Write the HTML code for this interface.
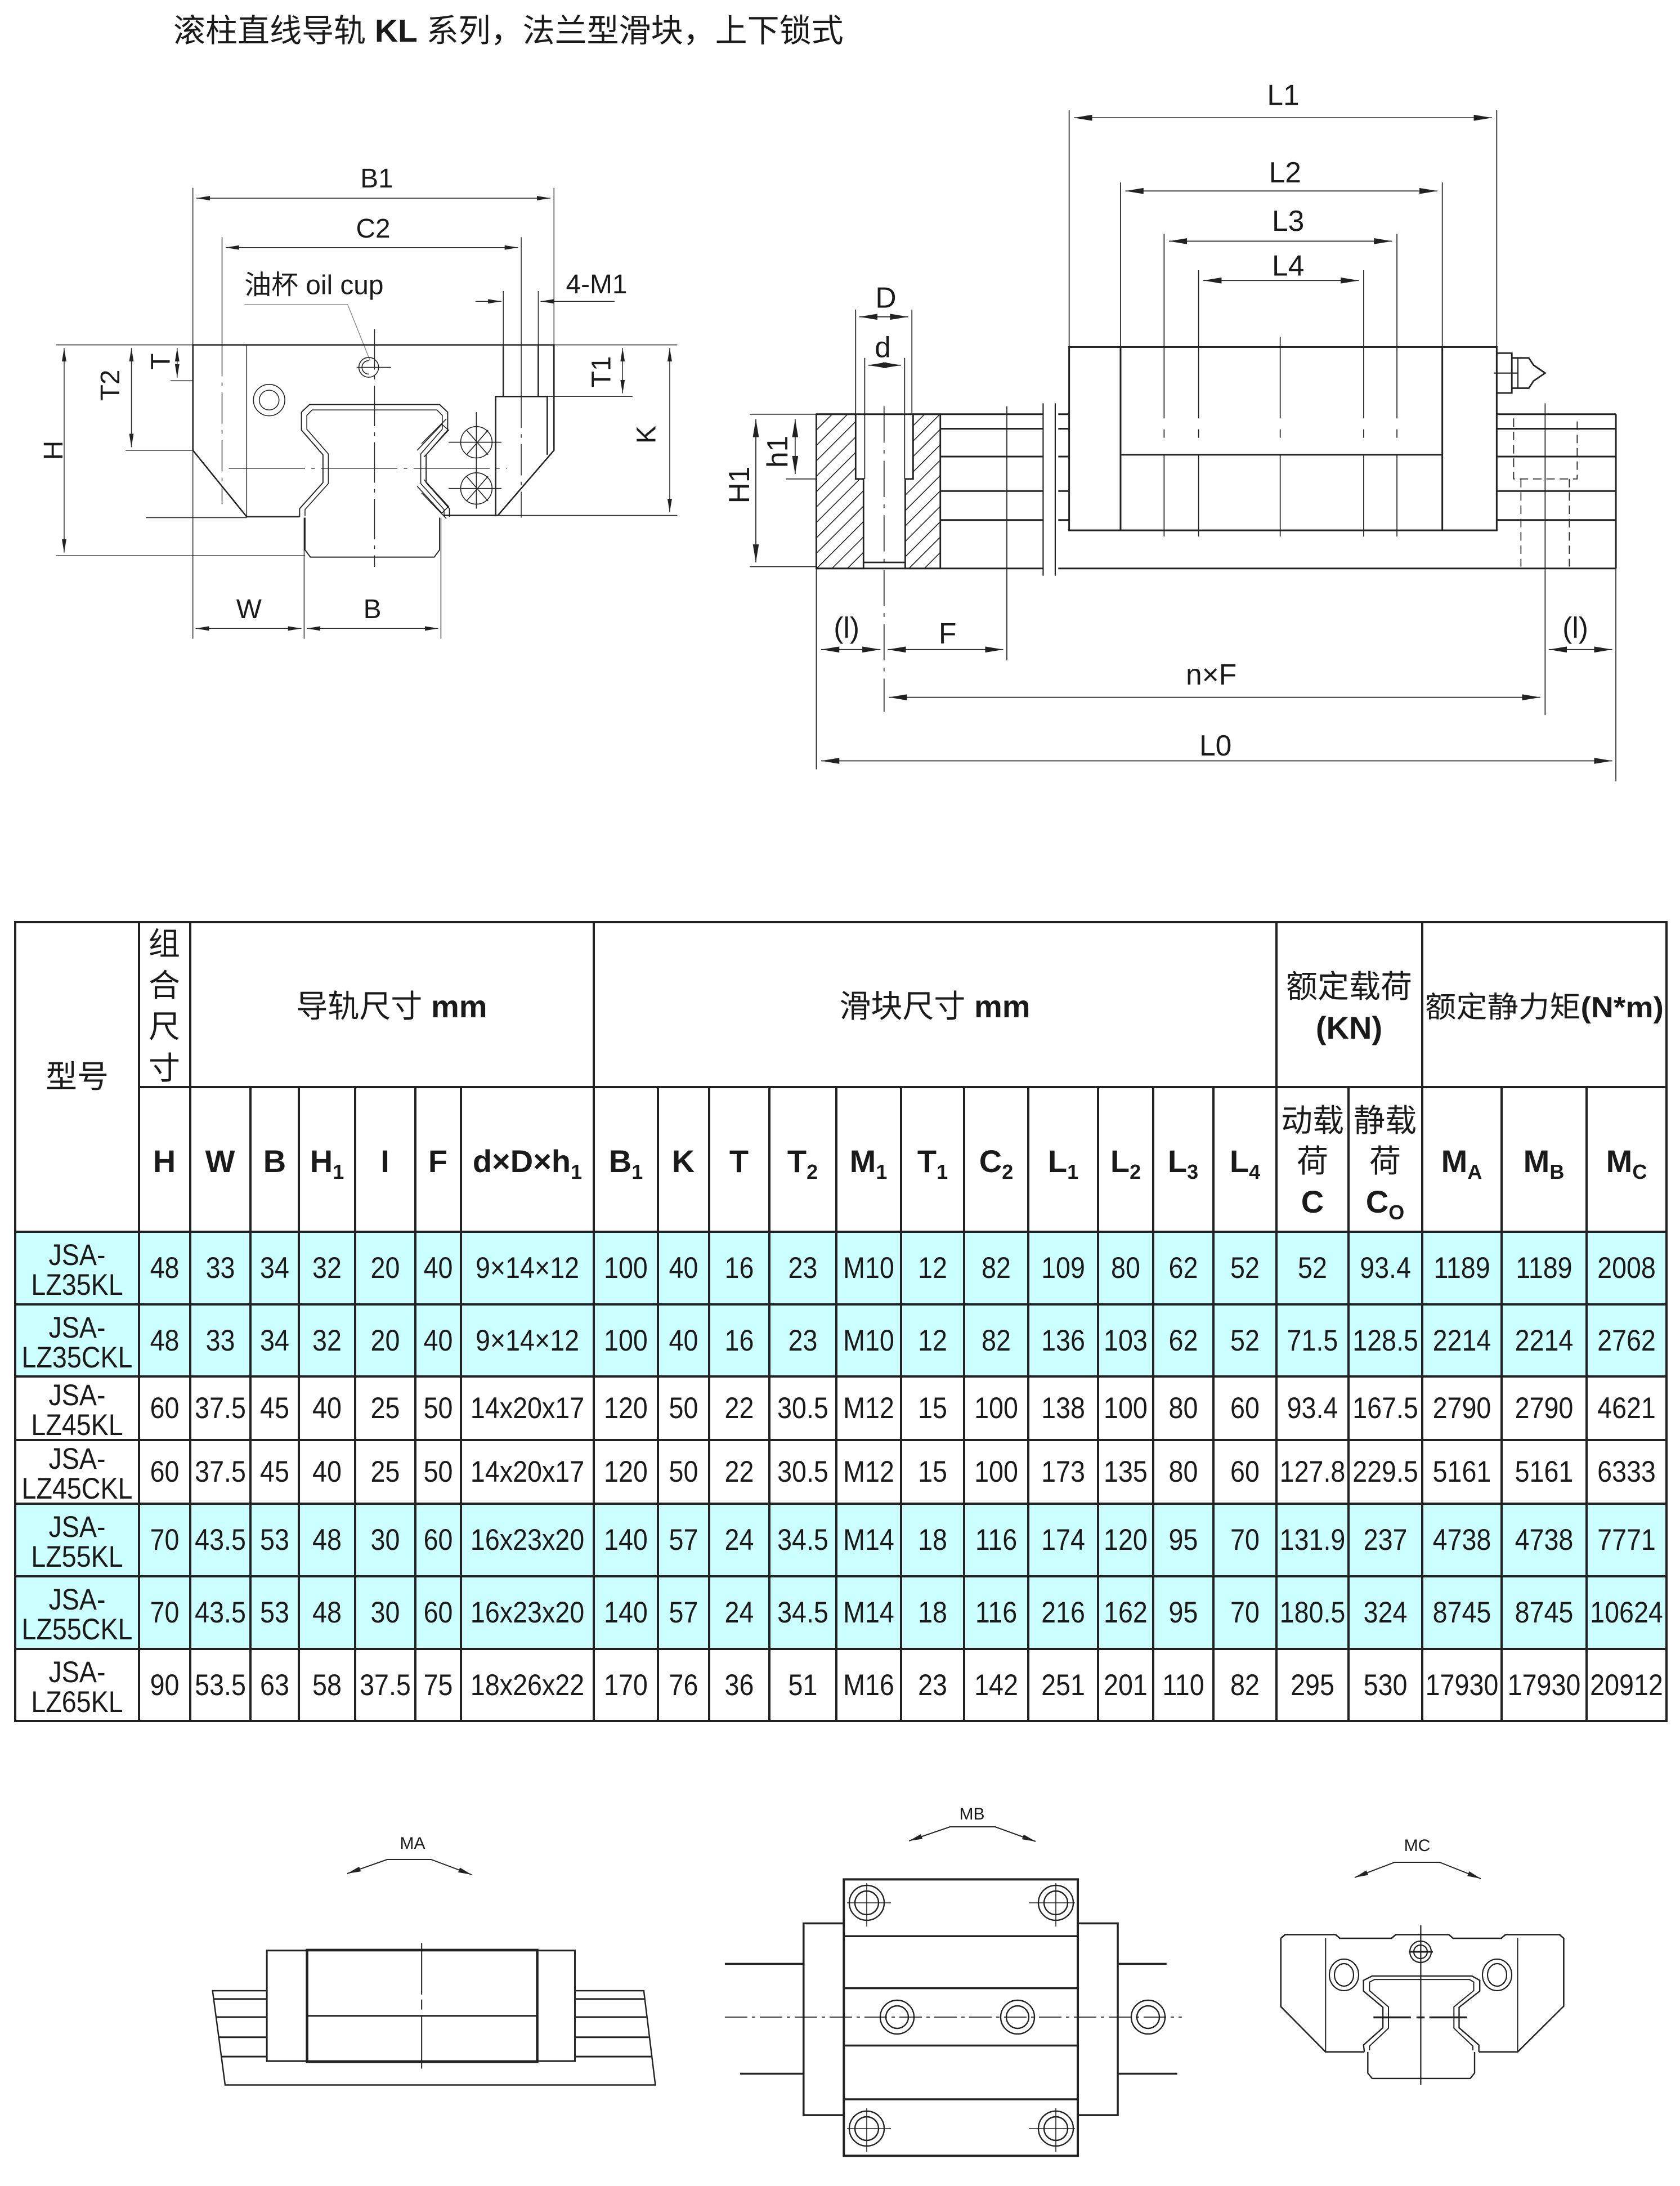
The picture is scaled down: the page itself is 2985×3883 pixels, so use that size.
<!DOCTYPE html>
<html><head><meta charset="utf-8"><style>
html,body{margin:0;padding:0;background:#fff;}
svg{display:block;}
text{font-family:"Liberation Sans","Noto Sans CJK SC",sans-serif;fill:#1a1a1a;stroke:none;}
</style></head><body>
<svg xmlns="http://www.w3.org/2000/svg" width="2985" height="3883" viewBox="0 0 2985 3883">
<defs>
<marker id="ar" viewBox="0 0 30 10" refX="30" refY="5" markerWidth="30" markerHeight="10" markerUnits="userSpaceOnUse" orient="auto-start-reverse"><path d="M0,0 L30,5 L0,10 z" fill="#222"/></marker>
<marker id="as" viewBox="0 0 24 9" refX="24" refY="4.5" markerWidth="24" markerHeight="9" markerUnits="userSpaceOnUse" orient="auto-start-reverse"><path d="M0,0 L24,4.5 L0,9 z" fill="#222"/></marker>
<pattern id="hatch" patternUnits="userSpaceOnUse" width="18" height="18" patternTransform="rotate(45)"><rect width="18" height="18" fill="#fff"/><line x1="0" y1="0" x2="0" y2="18" stroke="#222" stroke-width="3"/></pattern>
</defs>
<rect width="2985" height="3883" fill="#fff"/>

<!-- Title -->
<text x="308" y="74" font-size="57">滚柱直线导轨 <tspan font-weight="bold">KL</tspan> 系列，法兰型滑块，上下锁式</text>

<!-- Top-left drawing -->
<g transform="translate(0,250) scale(0.797)" stroke="#222" fill="none">
 <g stroke-width="1.8">
  <line x1="430" y1="105" x2="430" y2="1110"/>
  <line x1="1235" y1="105" x2="1235" y2="455"/>
  <line x1="438" y1="128" x2="1227" y2="128" marker-start="url(#ar)" marker-end="url(#ar)"/>
  <line x1="495" y1="215" x2="495" y2="455"/>
  <line x1="495" y1="455" x2="495" y2="810" stroke-dasharray="70 14 8 14"/>
  <line x1="1162" y1="215" x2="1162" y2="570"/>
  <line x1="1162" y1="570" x2="1162" y2="840" stroke-dasharray="70 14 8 14"/>
  <line x1="503" y1="238" x2="1155" y2="238" marker-start="url(#ar)" marker-end="url(#ar)"/>
  <polyline points="545,365 775,365 825,490" stroke="#888"/>
  <line x1="1122" y1="335" x2="1122" y2="455"/>
  <line x1="1200" y1="335" x2="1200" y2="455"/>
  <line x1="1060" y1="358" x2="1118" y2="358" marker-end="url(#ar)"/>
  <line x1="1370" y1="358" x2="1205" y2="358" marker-end="url(#ar)"/>
  <line x1="143" y1="462" x2="143" y2="918" marker-start="url(#ar)" marker-end="url(#ar)"/>
  <line x1="125" y1="455" x2="1510" y2="455"/>
  <line x1="125" y1="925" x2="680" y2="925"/>
  <line x1="293" y1="462" x2="293" y2="683" marker-start="url(#ar)" marker-end="url(#ar)"/>
  <line x1="280" y1="690" x2="430" y2="690"/>
  <line x1="395" y1="462" x2="395" y2="528" marker-start="url(#ar)" marker-end="url(#ar)"/>
  <line x1="380" y1="535" x2="430" y2="535"/>
  <line x1="1388" y1="462" x2="1388" y2="563" marker-start="url(#ar)" marker-end="url(#ar)"/>
  <line x1="1220" y1="570" x2="1410" y2="570"/>
  <line x1="1493" y1="462" x2="1493" y2="828" marker-start="url(#ar)" marker-end="url(#ar)"/>
  <line x1="1105" y1="835" x2="1510" y2="835"/>
  <line x1="325" y1="840" x2="550" y2="840"/>
  <line x1="436" y1="1087" x2="672" y2="1087" marker-start="url(#ar)" marker-end="url(#ar)"/>
  <line x1="678" y1="840" x2="678" y2="1110"/>
  <line x1="684" y1="1087" x2="977" y2="1087" marker-start="url(#ar)" marker-end="url(#ar)"/>
  <line x1="983" y1="840" x2="983" y2="1110"/>
  <line x1="835" y1="420" x2="835" y2="950" stroke-dasharray="90 14 8 14"/>
  <line x1="510" y1="730" x2="1130" y2="730" stroke-dasharray="170 14 8 14"/>
  <line x1="795" y1="505" x2="872" y2="505"/>
  <line x1="550" y1="455" x2="550" y2="838"/>
 </g>
 <g stroke-width="3.2">
  <polyline points="668,838 550,838 430,690 430,455 1235,455 1235,690 1110,835 988,835"/>
  <polyline points="1105,835 1105,570 1220,570 1220,700"/>
  <line x1="1122" y1="455" x2="1122" y2="570"/>
  <line x1="1200" y1="455" x2="1200" y2="570"/>
  <path d="M668,838 L668,820 L720,762 L720,700 L672,645 L672,605 L690,588 L980,588 L998,605 L998,645 L950,700 L950,762 L1002,820 L1002,838" stroke-width="2.4"/>
  <path d="M680,836 L680,822 L732,764 L732,698 L684,643 L684,612 L696,600 L974,600 L986,612 L986,643 L938,698 L938,764 L990,822 L990,836" stroke-width="2"/>
  <path d="M680,840 L680,912 L692,928 L968,928 L980,912 L980,840" stroke-width="2.4"/>
 </g>
 <g stroke-width="2">
  <polyline points="930,690 985,632 1000,645 945,705"/>
  <line x1="940" y1="675" x2="995" y2="620"/>
  <polyline points="930,770 985,830 1000,815 945,755"/>
  <line x1="940" y1="785" x2="995" y2="842"/>
  <circle cx="1062" cy="672" r="35"/><circle cx="1062" cy="775" r="35"/>
  <line x1="1040" y1="645" x2="1088" y2="700"/><line x1="1088" y1="645" x2="1040" y2="700"/>
  <line x1="1040" y1="748" x2="1088" y2="803"/><line x1="1088" y1="748" x2="1040" y2="803"/>
  <line x1="1000" y1="672" x2="1118" y2="672"/><line x1="1000" y1="775" x2="1118" y2="775"/>
  <line x1="1062" y1="605" x2="1062" y2="820"/>
  <circle cx="600" cy="578" r="35"/><circle cx="600" cy="578" r="22"/>
  <circle cx="822" cy="505" r="22"/><path d="M822,490 A14,14 0 0 0 822,520"/>
 </g>
 <g font-size="60">
  <text x="840" y="104" text-anchor="middle">B1</text>
  <text x="832" y="216" text-anchor="middle">C2</text>
  <text x="545" y="342">油杯 oil cup</text>
  <text x="1330" y="340" text-anchor="middle">4-M1</text>
  <text x="555" y="1064" text-anchor="middle">W</text>
  <text x="830" y="1064" text-anchor="middle">B</text>
  <text x="118" y="711" text-anchor="middle" transform="rotate(-90 118 690)">H</text>
  <text x="245" y="566" text-anchor="middle" transform="rotate(-90 245 545)">T2</text>
  <text x="357" y="513" text-anchor="middle" transform="rotate(-90 357 492)">T</text>
  <text x="1340" y="536" text-anchor="middle" transform="rotate(-90 1340 515)">T1</text>
  <text x="1440" y="676" text-anchor="middle" transform="rotate(-90 1440 655)">K</text>
 </g>
</g>

<!-- Top-right drawing -->
<g transform="translate(1300,120) scale(1.0746)" stroke="#222" fill="none">
 <g stroke-width="1.6">
  <line x1="558" y1="70" x2="558" y2="462"/><line x1="1265" y1="70" x2="1265" y2="462"/>
  <line x1="566" y1="83" x2="1257" y2="83" marker-start="url(#ar)" marker-end="url(#ar)"/>
  <line x1="643" y1="190" x2="643" y2="462"/><line x1="1175" y1="190" x2="1175" y2="462"/>
  <line x1="651" y1="204" x2="1167" y2="204" marker-start="url(#ar)" marker-end="url(#ar)"/>
  <line x1="715" y1="275" x2="715" y2="580"/><line x1="715" y1="640" x2="715" y2="775"/>
  <line x1="1100" y1="275" x2="1100" y2="580"/><line x1="1100" y1="640" x2="1100" y2="775"/>
  <line x1="715" y1="598" x2="715" y2="612"/><line x1="1100" y1="598" x2="1100" y2="612"/>
  <line x1="723" y1="287" x2="1092" y2="287" marker-start="url(#ar)" marker-end="url(#ar)"/>
  <line x1="772" y1="335" x2="772" y2="580"/><line x1="772" y1="640" x2="772" y2="775"/>
  <line x1="1045" y1="335" x2="1045" y2="580"/><line x1="1045" y1="640" x2="1045" y2="775"/>
  <line x1="772" y1="598" x2="772" y2="612"/><line x1="1045" y1="598" x2="1045" y2="612"/>
  <line x1="780" y1="352" x2="1037" y2="352" marker-start="url(#ar)" marker-end="url(#ar)"/>
  <line x1="907" y1="445" x2="907" y2="580"/><line x1="907" y1="598" x2="907" y2="612"/><line x1="907" y1="640" x2="907" y2="775"/>
  <line x1="455" y1="560" x2="455" y2="980"/>
  <line x1="252" y1="560" x2="252" y2="1065" stroke-dasharray="60 12 6 12"/>
  <line x1="1345" y1="555" x2="1345" y2="1070"/>
  <polyline points="1293,580 1293,680 1398,680 1398,580" stroke-dasharray="14 8"/>
  <line x1="1305" y1="680" x2="1305" y2="825" stroke-dasharray="14 8"/>
  <line x1="1385" y1="680" x2="1385" y2="825" stroke-dasharray="14 8"/>
  <line x1="205" y1="400" x2="205" y2="573"/><line x1="298" y1="400" x2="298" y2="573"/>
  <line x1="211" y1="412" x2="292" y2="412" marker-start="url(#ar)" marker-end="url(#ar)"/>
  <line x1="220" y1="480" x2="220" y2="680"/><line x1="286" y1="480" x2="286" y2="680"/>
  <line x1="226" y1="492" x2="280" y2="492" marker-start="url(#ar)" marker-end="url(#ar)"/>
  <line x1="40" y1="581" x2="40" y2="818" marker-start="url(#ar)" marker-end="url(#ar)"/>
  <line x1="30" y1="573" x2="140" y2="573"/><line x1="30" y1="825" x2="140" y2="825"/>
  <line x1="105" y1="581" x2="105" y2="672" marker-start="url(#ar)" marker-end="url(#ar)"/>
  <line x1="90" y1="680" x2="205" y2="680"/>
  <line x1="140" y1="828" x2="140" y2="1160"/><line x1="1462" y1="828" x2="1462" y2="1180"/>
  <line x1="148" y1="962" x2="246" y2="962" marker-start="url(#ar)" marker-end="url(#ar)"/>
  <line x1="258" y1="962" x2="449" y2="962" marker-start="url(#ar)" marker-end="url(#ar)"/>
  <line x1="260" y1="1041" x2="1337" y2="1041" marker-start="url(#ar)" marker-end="url(#ar)"/>
  <line x1="1351" y1="962" x2="1456" y2="962" marker-start="url(#ar)" marker-end="url(#ar)"/>
  <line x1="148" y1="1146" x2="1456" y2="1146" marker-start="url(#ar)" marker-end="url(#ar)"/>
 </g>
 <polygon points="140,573 205,573 205,680 218,680 218,828 140,828" fill="url(#hatch)" stroke-width="2.6"/>
 <polygon points="300,573 345,573 345,828 287,828 287,680 300,680" fill="url(#hatch)" stroke-width="2.6"/>
 <line x1="218" y1="818" x2="287" y2="818" stroke-width="2.6"/>
 <g stroke-width="2.8">
  <rect x="558" y="462" width="707" height="303"/>
  <line x1="643" y1="462" x2="643" y2="765"/><line x1="1175" y1="462" x2="1175" y2="765"/>
  <line x1="643" y1="640" x2="1175" y2="640"/>
  <line x1="140" y1="573" x2="515" y2="573"/><line x1="540" y1="573" x2="558" y2="573"/><line x1="1265" y1="573" x2="1462" y2="573"/>
  <line x1="345" y1="597" x2="515" y2="597"/><line x1="540" y1="597" x2="558" y2="597"/><line x1="1265" y1="597" x2="1462" y2="597"/>
  <line x1="345" y1="643" x2="515" y2="643"/><line x1="540" y1="643" x2="558" y2="643"/><line x1="1265" y1="643" x2="1462" y2="643"/>
  <line x1="345" y1="700" x2="515" y2="700"/><line x1="540" y1="700" x2="558" y2="700"/><line x1="1265" y1="700" x2="1462" y2="700"/>
  <line x1="345" y1="748" x2="515" y2="748"/><line x1="540" y1="748" x2="558" y2="748"/><line x1="1265" y1="748" x2="1462" y2="748"/>
  <line x1="140" y1="828" x2="515" y2="828"/><line x1="540" y1="828" x2="1462" y2="828"/>
  <line x1="1462" y1="573" x2="1462" y2="828"/>
  <line x1="515" y1="555" x2="515" y2="840" stroke-width="2"/><line x1="535" y1="555" x2="535" y2="840" stroke-width="2"/>
  <path d="M1266,472 L1290,472 L1290,538 L1266,538" stroke-width="2.6"/>
  <path d="M1290,480 L1318,480 L1326,492 L1345,505 L1326,518 L1318,530 L1290,530" stroke-width="2.6"/>
  <line x1="1300" y1="480" x2="1300" y2="530" stroke-width="2"/>
  <line x1="1260" y1="505" x2="1300" y2="505" stroke-width="2"/>
 </g>
 <g font-size="48">
  <text x="912" y="62" text-anchor="middle">L1</text>
  <text x="915" y="190" text-anchor="middle">L2</text>
  <text x="920" y="270" text-anchor="middle">L3</text>
  <text x="920" y="344" text-anchor="middle">L4</text>
  <text x="255" y="397" text-anchor="middle">D</text>
  <text x="250" y="479" text-anchor="middle">d</text>
  <text x="190" y="942" text-anchor="middle">(l)</text>
  <text x="357" y="952" text-anchor="middle">F</text>
  <text x="793" y="1020" text-anchor="middle">n×F</text>
  <text x="1395" y="942" text-anchor="middle">(l)</text>
  <text x="800" y="1137" text-anchor="middle">L0</text>
  <text x="12" y="707" text-anchor="middle" transform="rotate(-90 12 690)">H1</text>
  <text x="75" y="652" text-anchor="middle" transform="rotate(-90 75 635)">h1</text>
 </g>
</g>

<!-- Table -->
<g>
 <rect x="27" y="2188" width="2934" height="256" fill="#ccffff"/>
 <rect x="27" y="2671" width="2934" height="258" fill="#ccffff"/>
 <g stroke="#222" stroke-width="4" fill="none">
  <rect x="27" y="1638" width="2934" height="1419"/>
  <line x1="247" y1="1931" x2="2961" y2="1931"/>
  <line x1="27" y1="2188" x2="2961" y2="2188"/>
  <line x1="27" y1="2317" x2="2961" y2="2317"/>
  <line x1="27" y1="2445" x2="2961" y2="2445"/>
  <line x1="27" y1="2558" x2="2961" y2="2558"/>
  <line x1="27" y1="2671" x2="2961" y2="2671"/>
  <line x1="27" y1="2800" x2="2961" y2="2800"/>
  <line x1="27" y1="2929" x2="2961" y2="2929"/>
  <line x1="247" y1="1638" x2="247" y2="3057"/>
  <line x1="338" y1="1638" x2="338" y2="3057"/>
  <line x1="1055" y1="1638" x2="1055" y2="3057"/>
  <line x1="2268" y1="1638" x2="2268" y2="3057"/>
  <line x1="2527" y1="1638" x2="2527" y2="3057"/>
  <line x1="445" y1="1931" x2="445" y2="3057"/>
  <line x1="531" y1="1931" x2="531" y2="3057"/>
  <line x1="631" y1="1931" x2="631" y2="3057"/>
  <line x1="738" y1="1931" x2="738" y2="3057"/>
  <line x1="819" y1="1931" x2="819" y2="3057"/>
  <line x1="1169" y1="1931" x2="1169" y2="3057"/>
  <line x1="1260" y1="1931" x2="1260" y2="3057"/>
  <line x1="1367" y1="1931" x2="1367" y2="3057"/>
  <line x1="1486" y1="1931" x2="1486" y2="3057"/>
  <line x1="1601" y1="1931" x2="1601" y2="3057"/>
  <line x1="1713" y1="1931" x2="1713" y2="3057"/>
  <line x1="1827" y1="1931" x2="1827" y2="3057"/>
  <line x1="1951" y1="1931" x2="1951" y2="3057"/>
  <line x1="2049" y1="1931" x2="2049" y2="3057"/>
  <line x1="2156" y1="1931" x2="2156" y2="3057"/>
  <line x1="2396" y1="1931" x2="2396" y2="3057"/>
  <line x1="2668" y1="1931" x2="2668" y2="3057"/>
  <line x1="2819" y1="1931" x2="2819" y2="3057"/>
 </g>
 <g font-size="56" text-anchor="middle">
  <text x="137" y="1932">型号</text>
  <text x="292" y="1696">组</text><text x="292" y="1770">合</text><text x="292" y="1843">尺</text><text x="292" y="1917">寸</text>
  <text x="696" y="1807">导轨尺寸 <tspan font-weight="bold">mm</tspan></text>
  <text x="1661" y="1807">滑块尺寸 <tspan font-weight="bold">mm</tspan></text>
  <text x="2397" y="1772">额定载荷</text>
  <text x="2397" y="1845" font-weight="bold">(KN)</text>
  <text x="2744" y="1807" font-size="52" textLength="424" lengthAdjust="spacingAndGlyphs">额定静力矩<tspan font-weight="bold">(N*m)</tspan></text>
  <text x="2332" y="2010">动载</text><text x="2332" y="2082">荷</text>
  <text x="2461" y="2010">静载</text><text x="2461" y="2082">荷</text>
 </g>
 <g font-size="56" font-weight="bold" text-anchor="middle">
  <text x="292" y="2082">H</text>
  <text x="391" y="2082">W</text>
  <text x="488" y="2082">B</text>
  <text x="581" y="2082">H<tspan font-size="36" dy="12">1</tspan></text>
  <text x="684" y="2082">I</text>
  <text x="778" y="2082">F</text>
  <text x="937" y="2082">d×D×h<tspan font-size="36" dy="12">1</tspan></text>
  <text x="1112" y="2082">B<tspan font-size="36" dy="12">1</tspan></text>
  <text x="1214" y="2082">K</text>
  <text x="1313" y="2082">T</text>
  <text x="1426" y="2082">T<tspan font-size="36" dy="12">2</tspan></text>
  <text x="1543" y="2082">M<tspan font-size="36" dy="12">1</tspan></text>
  <text x="1657" y="2082">T<tspan font-size="36" dy="12">1</tspan></text>
  <text x="1770" y="2082">C<tspan font-size="36" dy="12">2</tspan></text>
  <text x="1889" y="2082">L<tspan font-size="36" dy="12">1</tspan></text>
  <text x="2000" y="2082">L<tspan font-size="36" dy="12">2</tspan></text>
  <text x="2102" y="2082">L<tspan font-size="36" dy="12">3</tspan></text>
  <text x="2212" y="2082">L<tspan font-size="36" dy="12">4</tspan></text>
  <text x="2332" y="2154">C</text>
  <text x="2461" y="2154">C<tspan font-size="36" dy="12">O</tspan></text>
  <text x="2597" y="2082">M<tspan font-size="36" dy="12">A</tspan></text>
  <text x="2743" y="2082">M<tspan font-size="36" dy="12">B</tspan></text>
  <text x="2890" y="2082">M<tspan font-size="36" dy="12">C</tspan></text>
 </g>
 <g font-size="53" text-anchor="middle" transform="scale(0.88,1)">
  <text x="155.7" y="2247">JSA-</text><text x="155.7" y="2300">LZ35KL</text>
  <text x="332.4" y="2270">48</text><text x="444.9" y="2270">33</text><text x="554.5" y="2270">34</text><text x="660.2" y="2270">32</text><text x="777.8" y="2270">20</text><text x="884.7" y="2270">40</text><text x="1064.8" y="2270">9×14×12</text><text x="1263.6" y="2270">100</text><text x="1380.1" y="2270">40</text><text x="1492.6" y="2270">16</text><text x="1621" y="2270">23</text><text x="1754" y="2270">M10</text><text x="1883" y="2270">12</text><text x="2011.4" y="2270">82</text><text x="2146.6" y="2270">109</text><text x="2272.7" y="2270">80</text><text x="2389.2" y="2270">62</text><text x="2513.6" y="2270">52</text><text x="2650" y="2270">52</text><text x="2797.2" y="2270">93.4</text><text x="2951.7" y="2270">1189</text><text x="3117.6" y="2270">1189</text><text x="3284.1" y="2270">2008</text>
  <text x="155.7" y="2376">JSA-</text><text x="155.7" y="2429">LZ35CKL</text>
  <text x="332.4" y="2399">48</text><text x="444.9" y="2399">33</text><text x="554.5" y="2399">34</text><text x="660.2" y="2399">32</text><text x="777.8" y="2399">20</text><text x="884.7" y="2399">40</text><text x="1064.8" y="2399">9×14×12</text><text x="1263.6" y="2399">100</text><text x="1380.1" y="2399">40</text><text x="1492.6" y="2399">16</text><text x="1621" y="2399">23</text><text x="1754" y="2399">M10</text><text x="1883" y="2399">12</text><text x="2011.4" y="2399">82</text><text x="2146.6" y="2399">136</text><text x="2272.7" y="2399">103</text><text x="2389.2" y="2399">62</text><text x="2513.6" y="2399">52</text><text x="2650" y="2399">71.5</text><text x="2797.2" y="2399">128.5</text><text x="2951.7" y="2399">2214</text><text x="3117.6" y="2399">2214</text><text x="3284.1" y="2399">2762</text>
  <text x="155.7" y="2496">JSA-</text><text x="155.7" y="2549">LZ45KL</text>
  <text x="332.4" y="2519">60</text><text x="444.9" y="2519">37.5</text><text x="554.5" y="2519">45</text><text x="660.2" y="2519">40</text><text x="777.8" y="2519">25</text><text x="884.7" y="2519">50</text><text x="1064.8" y="2519">14x20x17</text><text x="1263.6" y="2519">120</text><text x="1380.1" y="2519">50</text><text x="1492.6" y="2519">22</text><text x="1621" y="2519">30.5</text><text x="1754" y="2519">M12</text><text x="1883" y="2519">15</text><text x="2011.4" y="2519">100</text><text x="2146.6" y="2519">138</text><text x="2272.7" y="2519">100</text><text x="2389.2" y="2519">80</text><text x="2513.6" y="2519">60</text><text x="2650" y="2519">93.4</text><text x="2797.2" y="2519">167.5</text><text x="2951.7" y="2519">2790</text><text x="3117.6" y="2519">2790</text><text x="3284.1" y="2519">4621</text>
  <text x="155.7" y="2609">JSA-</text><text x="155.7" y="2662">LZ45CKL</text>
  <text x="332.4" y="2632">60</text><text x="444.9" y="2632">37.5</text><text x="554.5" y="2632">45</text><text x="660.2" y="2632">40</text><text x="777.8" y="2632">25</text><text x="884.7" y="2632">50</text><text x="1064.8" y="2632">14x20x17</text><text x="1263.6" y="2632">120</text><text x="1380.1" y="2632">50</text><text x="1492.6" y="2632">22</text><text x="1621" y="2632">30.5</text><text x="1754" y="2632">M12</text><text x="1883" y="2632">15</text><text x="2011.4" y="2632">100</text><text x="2146.6" y="2632">173</text><text x="2272.7" y="2632">135</text><text x="2389.2" y="2632">80</text><text x="2513.6" y="2632">60</text><text x="2650" y="2632">127.8</text><text x="2797.2" y="2632">229.5</text><text x="2951.7" y="2632">5161</text><text x="3117.6" y="2632">5161</text><text x="3284.1" y="2632">6333</text>
  <text x="155.7" y="2730">JSA-</text><text x="155.7" y="2783">LZ55KL</text>
  <text x="332.4" y="2753">70</text><text x="444.9" y="2753">43.5</text><text x="554.5" y="2753">53</text><text x="660.2" y="2753">48</text><text x="777.8" y="2753">30</text><text x="884.7" y="2753">60</text><text x="1064.8" y="2753">16x23x20</text><text x="1263.6" y="2753">140</text><text x="1380.1" y="2753">57</text><text x="1492.6" y="2753">24</text><text x="1621" y="2753">34.5</text><text x="1754" y="2753">M14</text><text x="1883" y="2753">18</text><text x="2011.4" y="2753">116</text><text x="2146.6" y="2753">174</text><text x="2272.7" y="2753">120</text><text x="2389.2" y="2753">95</text><text x="2513.6" y="2753">70</text><text x="2650" y="2753">131.9</text><text x="2797.2" y="2753">237</text><text x="2951.7" y="2753">4738</text><text x="3117.6" y="2753">4738</text><text x="3284.1" y="2753">7771</text>
  <text x="155.7" y="2859">JSA-</text><text x="155.7" y="2912">LZ55CKL</text>
  <text x="332.4" y="2882">70</text><text x="444.9" y="2882">43.5</text><text x="554.5" y="2882">53</text><text x="660.2" y="2882">48</text><text x="777.8" y="2882">30</text><text x="884.7" y="2882">60</text><text x="1064.8" y="2882">16x23x20</text><text x="1263.6" y="2882">140</text><text x="1380.1" y="2882">57</text><text x="1492.6" y="2882">24</text><text x="1621" y="2882">34.5</text><text x="1754" y="2882">M14</text><text x="1883" y="2882">18</text><text x="2011.4" y="2882">116</text><text x="2146.6" y="2882">216</text><text x="2272.7" y="2882">162</text><text x="2389.2" y="2882">95</text><text x="2513.6" y="2882">70</text><text x="2650" y="2882">180.5</text><text x="2797.2" y="2882">324</text><text x="2951.7" y="2882">8745</text><text x="3117.6" y="2882">8745</text><text x="3284.1" y="2882">10624</text>
  <text x="155.7" y="2988">JSA-</text><text x="155.7" y="3041">LZ65KL</text>
  <text x="332.4" y="3011">90</text><text x="444.9" y="3011">53.5</text><text x="554.5" y="3011">63</text><text x="660.2" y="3011">58</text><text x="777.8" y="3011">37.5</text><text x="884.7" y="3011">75</text><text x="1064.8" y="3011">18x26x22</text><text x="1263.6" y="3011">170</text><text x="1380.1" y="3011">76</text><text x="1492.6" y="3011">36</text><text x="1621" y="3011">51</text><text x="1754" y="3011">M16</text><text x="1883" y="3011">23</text><text x="2011.4" y="3011">142</text><text x="2146.6" y="3011">251</text><text x="2272.7" y="3011">201</text><text x="2389.2" y="3011">110</text><text x="2513.6" y="3011">82</text><text x="2650" y="3011">295</text><text x="2797.2" y="3011">530</text><text x="2951.7" y="3011">17930</text><text x="3117.6" y="3011">17930</text><text x="3284.1" y="3011">20912</text>
 </g>
</g>

<!-- Bottom: MA -->
<g transform="translate(300,3150) scale(0.893,0.4464)" stroke="#222" fill="none">
 <g stroke-width="3">
  <rect x="195" y="705" width="613" height="440" vector-effect="non-scaling-stroke"/>
  <rect x="275" y="703" width="458" height="445" stroke-width="4.5" vector-effect="non-scaling-stroke"/>
  <line x1="275" y1="965" x2="733" y2="965" vector-effect="non-scaling-stroke"/>
  <line x1="503" y1="675" x2="503" y2="880" stroke-width="2" vector-effect="non-scaling-stroke"/>
  <line x1="503" y1="900" x2="503" y2="940" stroke-width="2" vector-effect="non-scaling-stroke"/>
  <line x1="503" y1="965" x2="503" y2="1175" stroke-width="2" vector-effect="non-scaling-stroke"/>
  <polyline points="195,865 87,865 112,1240 968,1240 945,865 808,865" stroke-width="2.5" vector-effect="non-scaling-stroke"/>
  <line x1="90" y1="898" x2="195" y2="898" vector-effect="non-scaling-stroke"/><line x1="808" y1="898" x2="947" y2="898" vector-effect="non-scaling-stroke"/>
  <line x1="95" y1="970" x2="195" y2="970" vector-effect="non-scaling-stroke"/><line x1="808" y1="970" x2="950" y2="970" vector-effect="non-scaling-stroke"/>
  <line x1="100" y1="1050" x2="195" y2="1050" vector-effect="non-scaling-stroke"/><line x1="808" y1="1050" x2="955" y2="1050" vector-effect="non-scaling-stroke"/>
  <line x1="105" y1="1127" x2="195" y2="1127" vector-effect="non-scaling-stroke"/><line x1="808" y1="1127" x2="960" y2="1127" vector-effect="non-scaling-stroke"/>
 </g>
</g>

<!-- Bottom: MB -->
<g transform="translate(1250,3150) scale(0.542,0.4464)" stroke="#222" fill="none">
 <rect x="460" y="422" width="767" height="1100" stroke-width="4" vector-effect="non-scaling-stroke"/>
 <line x1="460" y1="648" x2="1227" y2="648" stroke-width="3.5" vector-effect="non-scaling-stroke"/>
 <line x1="460" y1="855" x2="1227" y2="855" stroke-width="3.5" vector-effect="non-scaling-stroke"/>
 <line x1="460" y1="1083" x2="1227" y2="1083" stroke-width="3.5" vector-effect="non-scaling-stroke"/>
 <line x1="460" y1="1297" x2="1227" y2="1297" stroke-width="3.5" vector-effect="non-scaling-stroke"/>
 <polyline points="460,597 328,597 328,1360 460,1360" stroke-width="3.5" vector-effect="non-scaling-stroke"/>
 <polyline points="1227,597 1358,597 1358,1360 1227,1360" stroke-width="3.5" vector-effect="non-scaling-stroke"/>
 <line x1="70" y1="758" x2="328" y2="758" stroke-width="3.5" vector-effect="non-scaling-stroke"/>
 <line x1="1358" y1="758" x2="1518" y2="758" stroke-width="3.5" vector-effect="non-scaling-stroke"/>
 <line x1="120" y1="1195" x2="328" y2="1195" stroke-width="3.5" vector-effect="non-scaling-stroke"/>
 <line x1="1358" y1="1195" x2="1553" y2="1195" stroke-width="3.5" vector-effect="non-scaling-stroke"/>
 <line x1="70" y1="970" x2="1568" y2="970" stroke-width="1.8" stroke-dasharray="40 8 6 8" vector-effect="non-scaling-stroke"/>
</g>
<g stroke="#222" fill="none" stroke-width="2.4">
 <circle cx="1540" cy="3380" r="31"/><circle cx="1540" cy="3380" r="21"/>
 <circle cx="1876" cy="3380" r="31"/><circle cx="1876" cy="3380" r="21"/>
 <circle cx="1540" cy="3781" r="31"/><circle cx="1540" cy="3781" r="21"/>
 <circle cx="1876" cy="3781" r="31"/><circle cx="1876" cy="3781" r="21"/>
 <circle cx="1594" cy="3583" r="30"/><circle cx="1594" cy="3583" r="20"/>
 <circle cx="1808" cy="3583" r="30"/><circle cx="1808" cy="3583" r="20"/>
 <circle cx="2040" cy="3583" r="30"/><circle cx="2040" cy="3583" r="20"/>
 <g stroke-width="1.6">
  <line x1="1505" y1="3380" x2="1583" y2="3380"/><line x1="1540" y1="3345" x2="1540" y2="3422"/>
  <line x1="1828" y1="3380" x2="1910" y2="3380"/><line x1="1876" y1="3345" x2="1876" y2="3422"/>
  <line x1="1505" y1="3781" x2="1583" y2="3781"/><line x1="1540" y1="3745" x2="1540" y2="3822"/>
  <line x1="1828" y1="3781" x2="1910" y2="3781"/><line x1="1876" y1="3745" x2="1876" y2="3822"/>
 </g>
</g>

<!-- Bottom: MC -->
<g transform="translate(1650,3150) scale(0.765,0.383)" stroke="#222" fill="none">
 <path d="M818,765 L818,1082 L922,1292 L1012,1292 M1278,1292 L1368,1292 L1475,1080 L1475,765" stroke-width="2.6" vector-effect="non-scaling-stroke"/>
 <path d="M818,765 L828,748 L945,748 L955,765 L1075,765 L1085,748 L1208,748 L1218,765 L1330,765 L1340,748 L1465,748 L1475,765" stroke-width="2.6" vector-effect="non-scaling-stroke"/>
 <line x1="922" y1="765" x2="922" y2="1292" stroke-width="2" vector-effect="non-scaling-stroke"/>
 <line x1="1368" y1="765" x2="1368" y2="1292" stroke-width="2" vector-effect="non-scaling-stroke"/>
 <path d="M1012,1292 L1010,1260 L1055,1180 L1055,1085 L1010,1010 L1010,960 L1030,940 L1262,940 L1280,960 L1280,1010 L1232,1085 L1232,1180 L1278,1260 L1278,1292" stroke-width="2.4" vector-effect="non-scaling-stroke"/>
 <path d="M1024,1285 L1024,1265 L1068,1182 L1068,1083 L1024,1008 L1024,968 L1036,956 L1256,956 L1266,968 L1266,1008 L1220,1083 L1220,1182 L1264,1265 L1264,1285" stroke-width="2" vector-effect="non-scaling-stroke"/>
 <path d="M1020,1292 L1020,1390 L1030,1415 L1258,1415 L1268,1390 L1268,1292" stroke-width="2.4" vector-effect="non-scaling-stroke"/>
 <line x1="1143" y1="705" x2="1143" y2="1445" stroke-width="2.2" vector-effect="non-scaling-stroke"/>
 <line x1="1033" y1="1132" x2="1120" y2="1132" stroke-width="3.5" vector-effect="non-scaling-stroke"/>
 <line x1="1133" y1="1132" x2="1152" y2="1132" stroke-width="3.5" vector-effect="non-scaling-stroke"/>
 <line x1="1163" y1="1132" x2="1250" y2="1132" stroke-width="3.5" vector-effect="non-scaling-stroke"/>
</g>
<g stroke="#222" fill="none" stroke-width="2.2">
 <ellipse cx="2388" cy="3508" rx="26" ry="28"/><ellipse cx="2388" cy="3508" rx="17" ry="20"/>
 <ellipse cx="2660" cy="3508" rx="26" ry="28"/><ellipse cx="2660" cy="3508" rx="17" ry="20"/>
 <circle cx="2524" cy="3467" r="19"/><circle cx="2524" cy="3467" r="12"/>
 <line x1="2503" y1="3467" x2="2546" y2="3467" stroke-width="3"/>
</g>

<!-- Moment arrows -->
<g stroke="#222" fill="none" stroke-width="2">
 <polyline points="617,3328 688,3303 766,3303 838,3330" marker-start="url(#as)" marker-end="url(#as)"/>
 <polyline points="1615,3270 1688,3245 1768,3245 1840,3271" marker-start="url(#as)" marker-end="url(#as)"/>
 <polyline points="2407,3335 2478,3308 2558,3308 2631,3337" marker-start="url(#as)" marker-end="url(#as)"/>
</g>
<g font-size="30" text-anchor="middle">
 <text x="733" y="3284">MA</text>
 <text x="1727" y="3232">MB</text>
 <text x="2518" y="3288">MC</text>
</g>
</svg>
</body></html>
